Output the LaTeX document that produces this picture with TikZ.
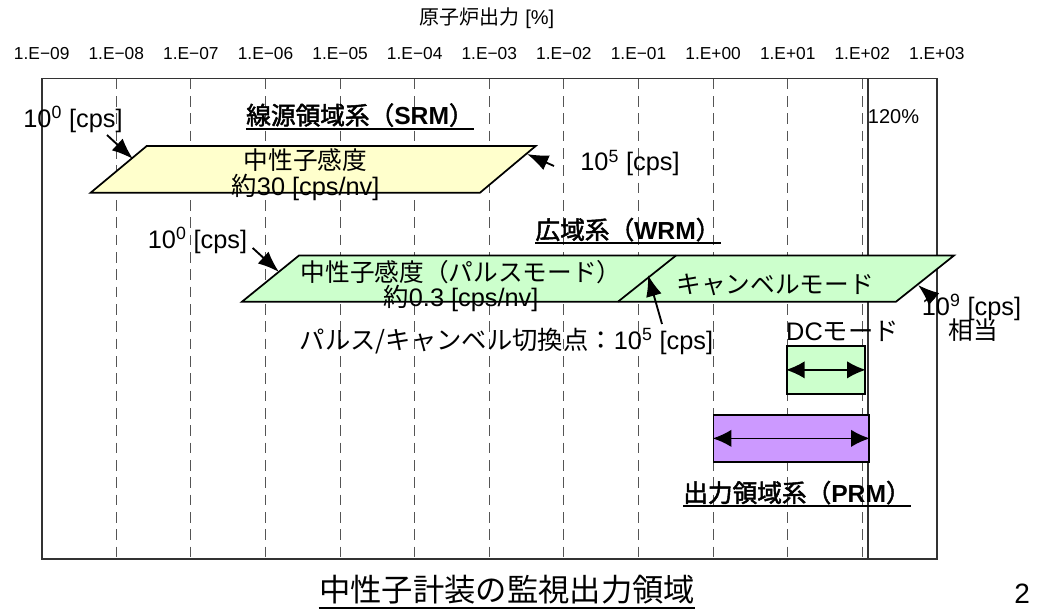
\documentclass[tikz,border=0pt]{standalone}
\usepackage{fontspec}
\setmainfont{Liberation Sans}
\newfontfamily\jp{Noto Sans CJK JP}[AutoFakeBold=2]
\usetikzlibrary{arrows.meta}
\newcommand{\J}[1]{{\jp #1}}
\definecolor{srmfill}{HTML}{FFFFCC}
\definecolor{wrmfill}{HTML}{CCFFCC}
\definecolor{prmfill}{HTML}{CC99FF}
\definecolor{framec}{HTML}{333333}
\definecolor{gridc}{HTML}{555555}
\begin{document}
\begin{tikzpicture}[x=0.75pt, y=-0.75pt,
  txt/.style={inner sep=0pt, anchor=base, font=\fontsize{19}{22}\selectfont},
  jtxt/.style={inner sep=0pt, anchor=base, font=\fontsize{18.5}{22}\selectfont},
  axl/.style={inner sep=0pt, anchor=base, font=\fontsize{13}{15}\selectfont},
  head/.style={inner sep=0pt, anchor=base, font=\fontsize{18.5}{22}\selectfont\bfseries},
  ul/.style={line width=1.3pt},
  frm/.style={draw=framec, line width=1.2pt},
  grd/.style={draw=gridc, line width=0.7pt, dash pattern=on 8pt off 5pt},
  band/.style={draw=black, line width=1.3pt, line join=miter},
  arr/.style={-{Latex[length=16pt,width=12pt]}, line width=1.4pt},
  dbl/.style={{Latex[length=14pt,width=13pt]}-{Latex[length=14pt,width=13pt]}, line width=1.2pt}]
\useasboundingbox (0,0) rectangle (1038,610);

% axis title and labels
\node[inner sep=0pt, anchor=base, font=\fontsize{15}{17}\selectfont] (xt) at (487,25) {\J{原子炉出力} [\%]};
\foreach \lab [count=\i from 0] in {−09,−08,−07,−06,−05,−04,−03,−02,−01,+00,+01,+02,+03}
  \node[axl] (ax\i) at ({41.7+74.6*\i},60) {1.E\lab};

% grid
\foreach \k in {1,...,11}
  \draw[grd] ({41.7+74.6*\k},78.7) -- ({41.7+74.6*\k},559);
\draw[frm] (868,78.7) -- (868,559);
\draw[frm] (41.7,78.7) rectangle (937,559);

% SRM
\draw[band, fill=srmfill] (146.7,146) -- (535.7,146) -- (480,192.7) -- (90.7,192.7) -- cycle;
\node[jtxt] (srm1) at (305.5,169.7) {\J{中性子感度}};
\node[txt] (srm2) at (305.5,195) {\J{約}30 [cps/nv]};
\node[head] (srmh) at (360,124.5) {\J{線源領域系（}SRM\J{）}};
\draw[ul] ([yshift=-3.5pt]srmh.base west) -- ([yshift=-3.5pt]srmh.base east);
\node[txt] (c1) at (73,127) {10\textsuperscript{0} [cps]};
\coordinate (c1s) at (107,135);
\coordinate (c1e) at (133,159);
\draw[arr] (c1s) -- (c1e);
\node[txt] (c2) at (630,170.5) {10\textsuperscript{5} [cps]};
\coordinate (c2s) at (554,166);
\coordinate (c2e) at (527,154);
\draw[arr] (c2s) -- (c2e);
\node[inner sep=0pt, anchor=base, font=\fontsize{15}{17}\selectfont] (pct) at (893.5,123) {120\%};

% WRM
\draw[band, fill=wrmfill] (299,255.5) -- (954,255.5) -- (896,301.7) -- (242,301.7) -- cycle;
\draw[band] (618,301.7) -- (676,255.5);
\node[jtxt] (w1) at (461,281) {\J{中性子感度（パルスモード）}};
\node[txt] (w2) at (461,306) {\J{約}0.3 [cps/nv]};
\node[jtxt] (w3) at (775,293) {\J{キャンベルモード}};
\node[head] (wrmh) at (628,239) {\J{広域系（}WRM\J{）}};
\draw[ul] ([yshift=-3pt]wrmh.base west) -- ([yshift=-3pt]wrmh.base east);
\node[txt] (c3) at (197.5,248) {10\textsuperscript{0} [cps]};
\coordinate (c3s) at (252.7,248);
\coordinate (c3e) at (279,272);
\draw[arr] (c3s) -- (c3e);
\node[txt] (sw) at (506.5,349) {\J{パルス/キャンベル切換点：}10\textsuperscript{5} [cps]};
\coordinate (sws) at (662,324);
\coordinate (swe) at (648,275);
\draw[arr] (sws) -- (swe);
\node[txt] (c5a) at (971.5,315) {10\textsuperscript{9} [cps]};
\node[jtxt] (c5b) at (973,339.5) {\J{相当}};
\coordinate (c5s) at (934,299);
\coordinate (c5e) at (918,285);
\draw[arr] (c5s) -- (c5e);

% DC mode
\node[txt] (dcl) at (842.5,340) {DC\J{モード}};
\node[band, fill=wrmfill, minimum width=78*0.75pt, minimum height=48*0.75pt, inner sep=0pt, anchor=north west] (dcb) at (786,345) {};
\draw[dbl] (dcb.west) -- (dcb.east);

% PRM
\node[band, fill=prmfill, minimum width=155.3*0.75pt, minimum height=47*0.75pt, inner sep=0pt, anchor=north west] (prb) at (712.7,414) {};
\draw[dbl] (prb.west) -- (prb.east);
\node[head] (prmh) at (797,502) {\J{出力領域系（}PRM\J{）}};
\draw[ul] ([yshift=-3pt]prmh.base west) -- ([yshift=-3pt]prmh.base east);

% bottom title
\node[inner sep=0pt, anchor=base, font=\fontsize{23.5}{26}\selectfont] (ttl) at (507,601) {\J{中性子計装の監視出力領域}};
\draw[ul] ([yshift=-5pt]ttl.base west) -- ([yshift=-5pt]ttl.base east);
\node[inner sep=0pt, anchor=base west, font=\fontsize{21}{22}\selectfont] (pg) at (1014,603) {2};
\end{tikzpicture}
\end{document}
